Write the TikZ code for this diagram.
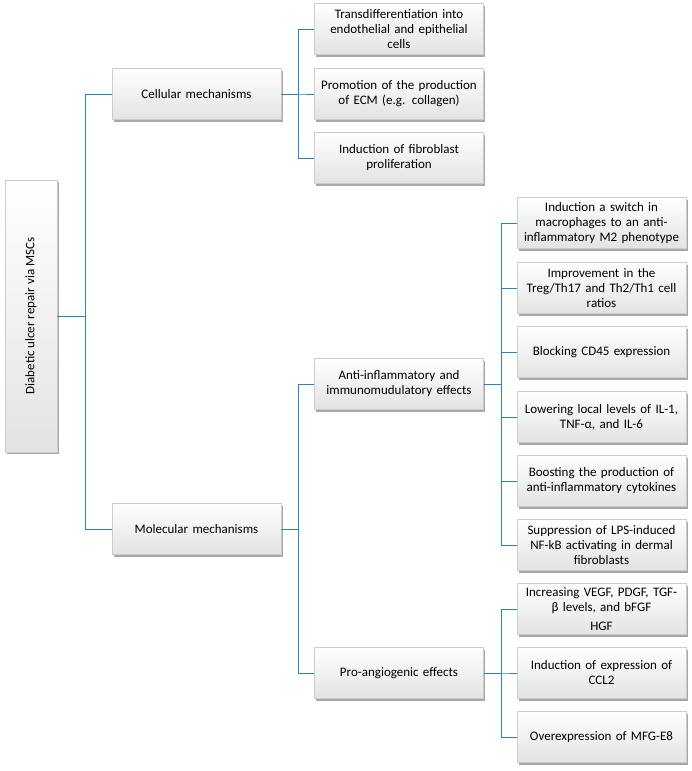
\documentclass[tikz,border=0pt]{standalone}
\usepackage{fontspec}
\setmainfont{Carlito}
\usepackage{graphicx}
\usepackage{xcolor}
\usetikzlibrary{shadows}
\definecolor{linkblue}{RGB}{38,132,198}

\begin{document}
\begin{tikzpicture}[x=1pt, y=-1pt, font=\fontsize{13}{15}\selectfont,
  box/.style={draw=gray!40, line width=0.4pt, top color=white, bottom color=gray!22,
    drop shadow={shadow xshift=1.5pt, shadow yshift=-2.2pt, fill=gray!80, opacity=0.85},
    minimum width=169pt, minimum height=51pt, inner sep=1pt},
  leaf/.style={box, text width=167pt, align=center},
  link/.style={draw=linkblue, line width=1pt}]
\useasboundingbox (0,0) rectangle (692,771);

% root
\node [box, minimum width=52pt, minimum height=272pt] (root) at (31,316) {\rotatebox{90}{Diabetic ulcer repair via MSCs}};

% first level
\node [leaf] (cell) at (196.5,94) {Cellular mechanisms};
\node [leaf] (mol) at (196.5,529) {Molecular mechanisms};

% cellular branch
\node [leaf] (trans) at (399,29) {Transdifferentiation into\\ endothelial and epithelial\\ cells};
\node [leaf] (ecm) at (399,94) {Promotion of the production\\ of ECM (e.g. collagen)};
\node [leaf] (fib) at (399,158) {Induction of fibroblast\\ proliferation};

% molecular branch
\node [leaf] (anti) at (399,384) {Anti-inflammatory and\\ immunomudulatory effects};
\node [leaf] (angio) at (399,673) {Pro-angiogenic effects};

% anti-inflammatory effects
\node [leaf] (m2) at (601.5,223) {Induction a switch in\\ macrophages to an anti-\\inflammatory M2 phenotype};
\node [leaf] (treg) at (601.5,288) {Improvement in the\\ Treg/Th17 and Th2/Th1 cell\\ ratios};
\node [leaf] (cd45) at (601.5,352) {Blocking CD45 expression};
\node [leaf] (il) at (601.5,417) {Lowering local levels of IL-1,\\ TNF-α, and IL-6};
\node [leaf] (cyto) at (601.5,481) {Boosting the production of\\ anti-inflammatory cytokines};
\node [leaf] (nfkb) at (601.5,545) {Suppression of LPS-induced\\ NF-kB activating in dermal\\ fibroblasts};

% pro-angiogenic effects
\node [leaf] (vegf) at (601.5,609) {Increasing VEGF, PDGF, TGF-\\ β levels, and bFGF\\[4pt] HGF};
\node [leaf] (ccl) at (601.5,673) {Induction of expression of\\ CCL2};
\node [leaf] (mfg) at (601.5,737) {Overexpression of MFG-E8};

% connectors
\draw [link] (root.east) -- ++(28,0) |- (cell.west);
\draw [link] (root.east) -- ++(28,0) |- (mol.west);

\draw [link] (cell.east) -- ++(17,0) |- (trans.west);
\draw [link] (cell.east) -- ++(17,0) |- (ecm.west);
\draw [link] (cell.east) -- ++(17,0) |- (fib.west);

\draw [link] (mol.east) -- ++(17,0) |- (anti.west);
\draw [link] (mol.east) -- ++(17,0) |- (angio.west);

\draw [link] (anti.east) -- ++(18,0) |- (m2.west);
\draw [link] (anti.east) -- ++(18,0) |- (treg.west);
\draw [link] (anti.east) -- ++(18,0) |- (cd45.west);
\draw [link] (anti.east) -- ++(18,0) |- (il.west);
\draw [link] (anti.east) -- ++(18,0) |- (cyto.west);
\draw [link] (anti.east) -- ++(18,0) |- (nfkb.west);

\draw [link] (angio.east) -- ++(18,0) |- (vegf.west);
\draw [link] (angio.east) -- ++(18,0) |- (ccl.west);
\draw [link] (angio.east) -- ++(18,0) |- (mfg.west);

\end{tikzpicture}
\end{document}
